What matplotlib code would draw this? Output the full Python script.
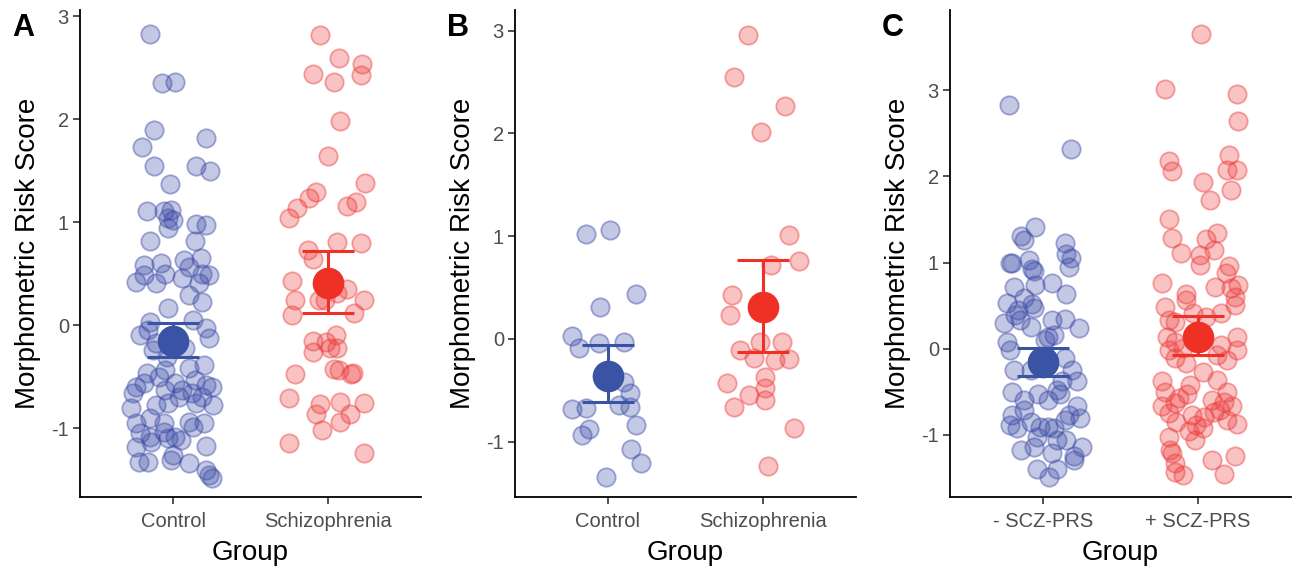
import matplotlib
matplotlib.use("Agg")
import matplotlib.pyplot as plt

plt.rcParams['font.family'] = ['Liberation Sans', 'DejaVu Sans']

# ---------------- data ----------------
cats_ab = ["Control", "Schizophrenia"]
cats_c = ["- SCZ-PRS", "+ SCZ-PRS"]

a_ctrl_jit = [-0.15, -0.07, 0.01, -0.12, 0.21, -0.20, -0.12, 0.15, 0.24, -0.02, -0.17, -0.06, -0.01, -0.03, 0.00,
              -0.03, 0.15, 0.21, -0.15, 0.14,
              -0.19, -0.08, 0.07, 0.18, -0.24, -0.19, -0.11, -0.05, 0.06, 0.10, 0.19, 0.23, 0.17, 0.10, 0.19, -0.03,
              -0.15, -0.21, -0.16, 0.13, 0.21, 0.23, -0.13, -0.11, 0.08, -0.04,
              -0.17, -0.05, 0.10, 0.20, -0.24, -0.19, -0.09, 0.01, 0.06, 0.14, 0.21, 0.25, -0.26, -0.05, 0.04, 0.12,
              0.19, -0.27, -0.11, -0.03, 0.15, 0.26, -0.24, -0.15, -0.06, 0.10, 0.20, -0.21, -0.15, -0.06, 0.01, 0.13,
              -0.14, -0.03, 0.05, -0.24, 0.21, -0.22, -0.16, 0.00, -0.01, 0.10, 0.21, 0.23, 0.25]
a_ctrl_y = [2.83, 2.35, 2.36, 1.89, 1.82, 1.73, 1.54, 1.54, 1.50, 1.37, 1.11, 1.11, 1.12, 1.04, 1.02,
            0.94, 0.98, 0.97, 0.82, 0.82,
            0.58, 0.60, 0.63, 0.65, 0.42, 0.49, 0.41, 0.50, 0.46, 0.56, 0.50, 0.49, 0.41, 0.29, 0.22, 0.17,
            0.03, -0.10, -0.05, 0.05, -0.03, -0.13, -0.24, -0.17, -0.22, -0.31,
            -0.47, -0.44, -0.42, -0.39, -0.60, -0.56, -0.50, -0.56, -0.63, -0.53, -0.58, -0.60, -0.66, -0.63, -0.70, -0.66,
            -0.70, -0.81, -0.78, -0.76, -0.76, -0.78, -0.95, -0.90, -0.95, -0.94, -0.95, -1.05, -1.09, -1.04, -1.09, -0.99,
            -1.14, -1.10, -1.12, -1.18, -1.17, -1.33, -1.33, -1.26, -1.31, -1.34, -1.41, -1.46, -1.49]

a_scz_jit = [-0.05, 0.07, 0.22, -0.10, 0.21, 0.04, 0.08, 0.00, 0.24, -0.08, -0.12, -0.20, -0.25, 0.12, 0.18,
             -0.13, 0.06, 0.21, -0.10, -0.23, -0.21, -0.23, -0.06, -0.02, 0.12, 0.06, 0.23, 0.17,
             -0.10, -0.10, -0.01, 0.05, 0.06, 0.01, -0.21, 0.07, 0.15, 0.16, 0.04,
             -0.25, -0.05, -0.08, 0.08, 0.23, 0.14, 0.08, -0.04, -0.25, 0.23]
a_scz_y = [2.82, 2.59, 2.54, 2.44, 2.43, 2.36, 1.98, 1.64, 1.38, 1.29, 1.23, 1.14, 1.04, 1.16, 1.20,
           0.73, 0.81, 0.80, 0.64, 0.43, 0.24, 0.10, 0.24, 0.24, 0.35, 0.31, 0.24, 0.12,
           -0.15, -0.26, -0.16, -0.10, -0.22, -0.22, -0.48, -0.44, -0.48, -0.47, -0.43,
           -0.71, -0.77, -0.86, -0.75, -0.76, -0.86, -0.94, -1.02, -1.15, -1.24]

b_ctrl_jit = [-0.14, 0.01, 0.18, -0.05, -0.23, -0.19, -0.06, 0.10, 0.10, 0.14, 0.07, 0.14, -0.23, -0.14,
              0.18, -0.12, -0.17, 0.15, 0.21, -0.01]
b_ctrl_y = [1.02, 1.06, 0.44, 0.31, 0.03, -0.09, -0.04, -0.03, -0.42, -0.53, -0.64, -0.66, -0.68, -0.67,
            -0.84, -0.88, -0.94, -1.07, -1.21, -1.35]

b_scz_jit = [-0.10, -0.19, 0.14, -0.01, 0.17, 0.23, 0.05, -0.20, -0.21, -0.02, 0.12, -0.15, -0.06, 0.08,
             0.17, 0.01, 0.01, -0.23, -0.09, 0.01, -0.19, 0.20, 0.03]
b_scz_y = [2.96, 2.55, 2.27, 2.01, 1.01, 0.76, 0.72, 0.43, 0.23, -0.03, -0.03, -0.11, -0.19, -0.21,
           -0.20, -0.37, -0.48, -0.43, -0.55, -0.60, -0.66, -0.87, -1.24]

c_neg_jit = [-0.22, 0.18, -0.05, -0.14, -0.12, 0.14, 0.15, 0.18, 0.17, -0.21, -0.20, -0.09, -0.07, -0.06,
             -0.19, -0.05, 0.06, 0.15, -0.23, -0.12, -0.07, -0.16, -0.06, -0.18, -0.15, -0.25, -0.08, 0.06,
             0.14, 0.23, 0.07, 0.03, -0.23, -0.21, 0.01, 0.14, 0.19, 0.22, -0.19, -0.08, 0.12, 0.09, -0.20,
             -0.03, -0.12, 0.03, 0.11, 0.22, 0.24, -0.20, -0.12, -0.21, -0.17, -0.08, -0.02, 0.03, 0.07, 0.14,
             0.17, -0.04, 0.09, 0.15, 0.25, -0.14, -0.06, 0.06, 0.20, 0.20, -0.04, 0.09, 0.04]
c_neg_y = [2.83, 2.32, 1.41, 1.31, 1.26, 1.23, 1.10, 1.05, 0.95, 1.00, 0.99, 1.03, 0.92, 0.90,
           0.72, 0.74, 0.76, 0.64, 0.53, 0.59, 0.52, 0.45, 0.47, 0.39, 0.33, 0.30, 0.25, 0.33,
           0.34, 0.24, 0.16, 0.14, 0.08, -0.01, 0.10, -0.11, -0.25, -0.38, -0.25, -0.25, -0.38, -0.48, -0.50,
           -0.53, -0.59, -0.59, -0.53, -0.67, -0.80, -0.77, -0.71, -0.88, -0.92, -0.85, -0.91, -0.91, -0.92, -0.83,
           -0.77, -1.02, -1.06, -1.06, -1.14, -1.17, -1.14, -1.21, -1.25, -1.29, -1.39, -1.39, -1.49]

c_pos_jit = [0.02, -0.21, 0.25, 0.26, 0.20, -0.19, -0.17, 0.19, 0.25, 0.03, 0.21, 0.08, -0.19, -0.17,
             -0.11, 0.05, 0.12, 0.10, 0.01, 0.01, 0.20, 0.18, -0.23, -0.08, 0.11, 0.26, 0.21, 0.24,
             -0.21, -0.08, -0.03, 0.05, 0.15, 0.24, -0.19, -0.15, -0.20, 0.25, -0.15, -0.10, -0.19, 0.15,
             0.25, 0.12, 0.19, -0.15, -0.08, 0.03, 0.12, -0.23, -0.05, 0.19, -0.21, -0.12, -0.07, 0.09,
             -0.23, -0.15, 0.17, -0.19, 0.14, 0.22, 0.10, -0.14, -0.04, 0.19, 0.25, 0.04, -0.01, -0.06,
             0.03, -0.02, -0.19, -0.18, -0.17, 0.09, 0.24, -0.15, -0.15, -0.10, 0.17]
c_pos_y = [3.65, 3.01, 2.96, 2.64, 2.25, 2.18, 2.06, 2.07, 2.07, 1.94, 1.84, 1.72, 1.50, 1.29,
           1.11, 1.27, 1.34, 1.14, 1.09, 0.97, 0.96, 0.88, 0.76, 0.63, 0.72, 0.74, 0.70, 0.60,
           0.48, 0.56, 0.42, 0.37, 0.41, 0.51, 0.33, 0.31, 0.14, 0.14, 0.08, 0.01, -0.01, 0.04,
           -0.01, -0.07, -0.13, -0.11, -0.17, -0.27, -0.36, -0.38, -0.42, -0.50, -0.50, -0.57, -0.53, -0.59,
           -0.67, -0.63, -0.62, -0.75, -0.71, -0.67, -0.73, -0.85, -0.77, -0.83, -0.87, -0.79, -0.88, -0.96,
           -0.92, -1.06, -1.02, -1.17, -1.21, -1.29, -1.25, -1.33, -1.43, -1.46, -1.45]

# mean, lower CI, upper CI
a_stats = [(-0.15, -0.31, 0.02), (0.41, 0.12, 0.72)]
b_stats = [(-0.36, -0.62, -0.06), (0.31, -0.13, 0.77)]
c_stats = [(-0.15, -0.32, 0.01), (0.14, -0.07, 0.38)]

panel_letters = ["A", "B", "C"]
ylims = [(-1.67, 3.06), (-1.54, 3.20), (-1.72, 3.93)]

# ---------------- style ----------------
BLUE = (0.23, 0.29, 0.65)
RED = (0.93, 0.23, 0.23)
BLUE_MEAN = "#3954A4"
RED_MEAN = "#EE3124"

W, H = 1294, 569
fig = plt.figure(figsize=(W / 100, H / 100), dpi=100)

lefts = [80, 515, 950]
ax_w = 341
bottom_px, top_px = 497, 10

panels = [
    (cats_ab, [(a_ctrl_jit, a_ctrl_y), (a_scz_jit, a_scz_y)], a_stats),
    (cats_ab, [(b_ctrl_jit, b_ctrl_y), (b_scz_jit, b_scz_y)], b_stats),
    (cats_c, [(c_neg_jit, c_neg_y), (c_pos_jit, c_pos_y)], c_stats),
]

for i, (cats, groups, stats) in enumerate(panels):
    ax = fig.add_axes([lefts[i] / W, (H - bottom_px) / H, ax_w / W, (bottom_px - top_px) / H])
    cols = [BLUE, RED]
    mcols = [BLUE_MEAN, RED_MEAN]
    for g, (jit, ys) in enumerate(groups):
        xs = [g + 1 + j for j in jit]
        ax.scatter(xs, ys, s=175, facecolor=(*cols[g], 0.30), edgecolor=(*cols[g], 0.45),
                   linewidth=1.3, zorder=2)
    for g, (m, lo, hi) in enumerate(stats):
        ax.errorbar([g + 1], [m], yerr=[[m - lo], [hi - m]], fmt='none', ecolor=mcols[g],
                    elinewidth=2.2, capsize=19, capthick=2.2, zorder=3)
        ax.scatter([g + 1], [m], s=520, color=mcols[g], zorder=4, linewidth=0)
    ax.set_xlim(0.4, 2.6)
    ax.set_ylim(*ylims[i])
    ax.set_xticks([1, 2])
    ax.set_xticklabels(cats)
    ax.set_yticks([-1, 0, 1, 2, 3])
    ax.set_yticklabels(["-1", "0", "1", "2", "3"])
    for s in ["top", "right"]:
        ax.spines[s].set_visible(False)
    for s in ["left", "bottom"]:
        ax.spines[s].set_linewidth(1.3)
        ax.spines[s].set_color("black")
    ax.tick_params(axis="both", labelsize=14.5, labelcolor="#4D4D4D", color="#333333",
                   length=5, width=1.2, pad=3)
    ax.tick_params(axis="x", pad=6)
    ax.set_xlabel("Group", fontsize=20, labelpad=6)
    ax.set_ylabel("Morphometric Risk Score", fontsize=20)
    ax.yaxis.set_label_coords(-0.115, 0.5)
    fig.text((lefts[i] - 68) / W, 1 - 13 / H, panel_letters[i], fontsize=22, fontweight="bold",
             ha="left", va="top")

fig.savefig("out.png", dpi=100)
